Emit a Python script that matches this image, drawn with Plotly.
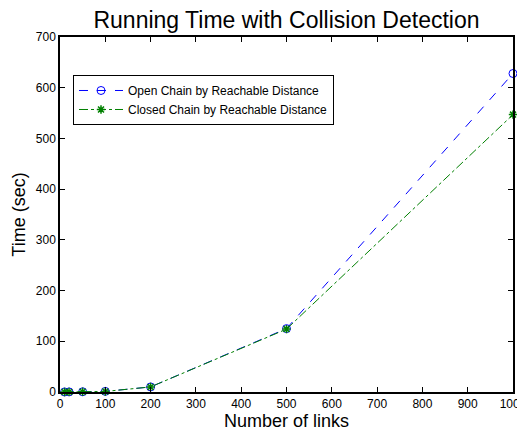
import plotly.graph_objects as go

links = [10, 20, 50, 100, 200, 500, 1000]
open_chain = [0.1, 0.2, 0.5, 1.2, 10, 125, 628]
closed_chain = [0.1, 0.2, 0.5, 1.1, 10, 124, 547]
x_ticks = [0, 100, 200, 300, 400, 500, 600, 700, 800, 900, 1000]
y_ticks = [0, 100, 200, 300, 400, 500, 600, 700]

font = "Liberation Sans, Arial, sans-serif"

fig = go.Figure()
fig.add_trace(go.Scatter(
    x=links, y=open_chain, mode="lines+markers",
    name="Open Chain by Reachable Distance",
    line=dict(color="#0000ff", width=1, dash="dash"),
    marker=dict(symbol="circle-open", size=8, color="#0000ff", line=dict(width=1)),
    cliponaxis=False,
))
fig.add_trace(go.Scatter(
    x=links, y=closed_chain, mode="lines+markers",
    name="Closed Chain by Reachable Distance",
    line=dict(color="#008000", width=1, dash="dashdot"),
    marker=dict(symbol="asterisk-open", size=7, color="#008000", line=dict(width=1.5, color="#008000")),
    cliponaxis=False,
))

axis_common = dict(
    showgrid=False, zeroline=False, showline=True, linecolor="black", linewidth=1.5,
    mirror="allticks", ticks="inside", ticklen=5, tickcolor="black",
    tickfont=dict(family=font, size=12, color="black"), automargin=False,
)
fig.update_xaxes(range=[0, 1000], tickvals=x_ticks, ticktext=[str(v) for v in x_ticks],
                 title=dict(text="Number of links", font=dict(family=font, size=18, color="black"), standoff=2),
                 **axis_common)
fig.update_yaxes(range=[0, 700], tickvals=y_ticks, ticktext=[str(v) for v in y_ticks],
                 title=dict(text="Time (sec)", font=dict(family=font, size=18, color="black"), standoff=6),
                 **axis_common)

fig.update_layout(
    width=525, height=433,
    margin=dict(l=52, r=20, t=29, b=49, autoexpand=False),
    paper_bgcolor="white", plot_bgcolor="white",
    title=dict(text="Running Time with Collision Detection", x=0.5, xref="paper", xanchor="center",
               y=0.972, yanchor="middle", font=dict(family=font, size=23, color="black")),
    legend=dict(x=0.0287, y=0.893, xanchor="left", yanchor="top",
                bordercolor="black", borderwidth=1, bgcolor="white",
                font=dict(family=font, size=12, color="black"),
                itemwidth=44, tracegroupgap=0),
    showlegend=True,
)

fig.write_html("out.html")
